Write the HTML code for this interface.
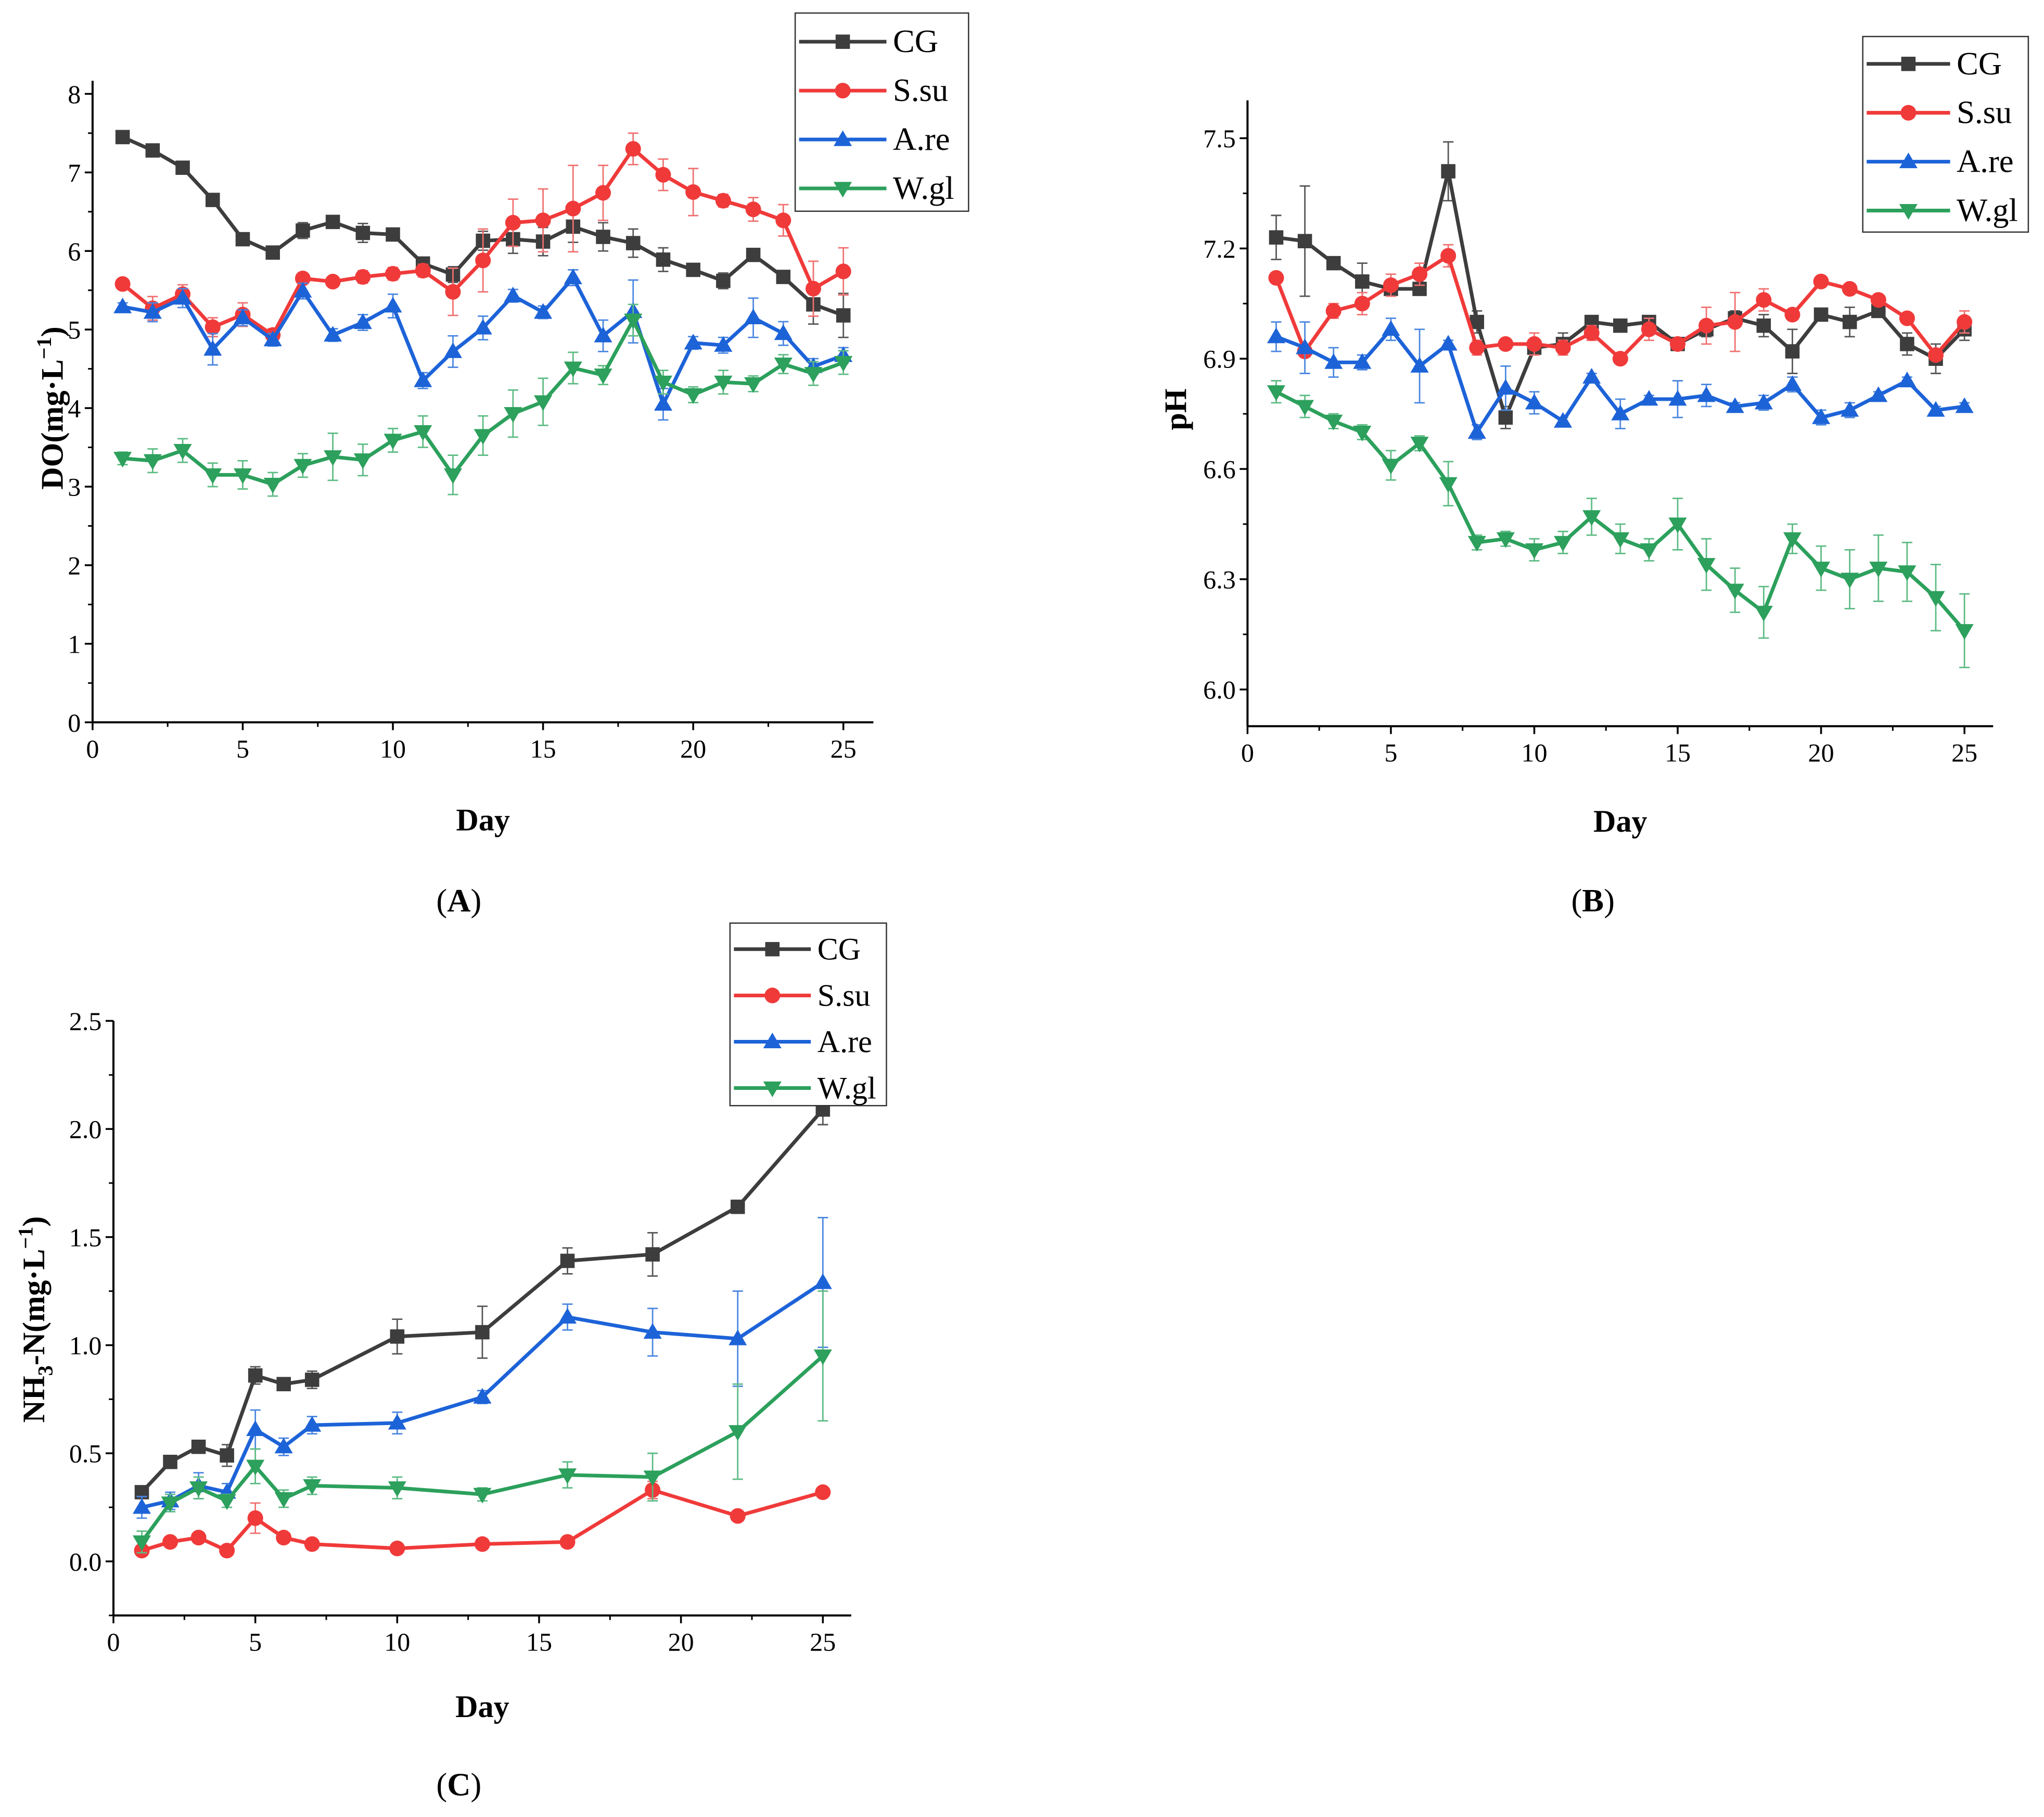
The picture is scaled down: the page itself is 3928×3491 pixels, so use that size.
<!DOCTYPE html>
<html><head><meta charset="utf-8"><style>
html,body{margin:0;padding:0;background:#fff;}
svg{display:block;}
text{font-family:"Liberation Serif",serif;}
</style></head><body>
<svg id="fig" xmlns="http://www.w3.org/2000/svg" width="3928" height="3491" viewBox="0 0 1568 1393.6">
<rect width="1568" height="1393.6" fill="#fff"/>
</svg>
<script>
// ---- Panel A (DO) data ----
const daysA = [1,2,3,4,5,6,7,8,9,10,11,12,13,14,15,16,17,18,19,20,21,22,23,24,25];
const doCG  = [7.45,7.28,7.06,6.65,6.15,5.98,6.26,6.37,6.23,6.21,5.84,5.70,6.13,6.15,6.12,6.31,6.18,6.10,5.89,5.76,5.62,5.95,5.67,5.32,5.18];
const doSsu = [5.58,5.27,5.45,5.03,5.19,4.93,5.65,5.61,5.67,5.71,5.75,5.48,5.88,6.36,6.39,6.54,6.74,7.30,6.97,6.75,6.64,6.53,6.39,5.52,5.74];
const doAre = [5.29,5.22,5.40,4.75,5.15,4.87,5.49,4.93,5.09,5.30,4.35,4.72,5.02,5.43,5.22,5.66,4.92,5.23,4.05,4.83,4.80,5.15,4.95,4.53,4.67];
const doWgl = [3.36,3.33,3.46,3.15,3.15,3.03,3.27,3.38,3.34,3.59,3.70,3.15,3.65,3.93,4.08,4.51,4.42,5.12,4.33,4.17,4.33,4.31,4.56,4.44,4.58];
const doCGe  = [0.04,0.03,0.08,0.03,0.08,0.04,0.10,0.08,0.12,0.06,0.08,0.10,0.12,0.18,0.18,0.20,0.18,0.18,0.15,0.05,0.10,0.05,0.08,0.25,0.28];
const doSsue = [0.04,0.15,0.12,0.12,0.15,0.08,0.05,0.05,0.08,0.08,0.08,0.30,0.40,0.30,0.40,0.55,0.35,0.20,0.20,0.30,0.08,0.15,0.20,0.35,0.30];
const doAree = [0.05,0.12,0.12,0.20,0.10,0.08,0.10,0.08,0.10,0.15,0.10,0.20,0.15,0.08,0.08,0.10,0.20,0.40,0.20,0.08,0.10,0.25,0.15,0.10,0.10];
const doWgle = [0.08,0.15,0.15,0.15,0.18,0.15,0.15,0.30,0.20,0.15,0.20,0.25,0.25,0.30,0.30,0.20,0.12,0.20,0.15,0.10,0.15,0.10,0.12,0.15,0.15];
// ---- Panel B (pH) data ----
const daysB = daysA;
const phCG  = [7.23,7.22,7.16,7.11,7.09,7.09,7.41,7.00,6.74,6.93,6.94,7.00,6.99,7.00,6.94,6.98,7.01,6.99,6.92,7.02,7.00,7.03,6.94,6.90,6.98];
const phSsu = [7.12,6.92,7.03,7.05,7.10,7.13,7.18,6.93,6.94,6.94,6.93,6.97,6.90,6.98,6.94,6.99,7.00,7.06,7.02,7.11,7.09,7.06,7.01,6.91,7.00];
const phAre = [6.96,6.93,6.89,6.89,6.98,6.88,6.94,6.70,6.82,6.78,6.73,6.85,6.75,6.79,6.79,6.80,6.77,6.78,6.83,6.74,6.76,6.80,6.84,6.76,6.77];
const phWgl = [6.81,6.77,6.73,6.70,6.61,6.67,6.56,6.40,6.41,6.38,6.40,6.47,6.41,6.38,6.45,6.34,6.27,6.21,6.41,6.33,6.30,6.33,6.32,6.25,6.16];
const phCGe  = [0.06,0.15,0.01,0.05,0.01,0.01,0.08,0.03,0.03,0.01,0.03,0.01,0.01,0.01,0.01,0.02,0.02,0.03,0.06,0.01,0.04,0.01,0.03,0.04,0.03];
const phSsue = [0.01,0.01,0.02,0.03,0.03,0.03,0.03,0.02,0.01,0.03,0.02,0.02,0.01,0.03,0.01,0.05,0.08,0.03,0.01,0.01,0.01,0.01,0.01,0.01,0.03];
const phAree = [0.04,0.07,0.04,0.02,0.03,0.10,0.01,0.02,0.06,0.03,0.01,0.01,0.04,0.01,0.05,0.03,0.01,0.02,0.02,0.02,0.02,0.01,0.01,0.01,0.01];
const phWgle = [0.03,0.03,0.02,0.02,0.04,0.02,0.06,0.02,0.02,0.03,0.03,0.05,0.04,0.03,0.07,0.07,0.06,0.07,0.04,0.06,0.08,0.09,0.08,0.09,0.10];
// ---- Panel C (NH3-N) data ----
const daysC = [1,2,3,4,5,6,7,10,13,16,19,22,25];
const nhCG  = [0.32,0.46,0.53,0.49,0.86,0.82,0.84,1.04,1.06,1.39,1.42,1.64,2.09];
const nhSsu = [0.05,0.09,0.11,0.05,0.20,0.11,0.08,0.06,0.08,0.09,0.33,0.21,0.32];
const nhAre = [0.25,0.28,0.35,0.32,0.61,0.53,0.63,0.64,0.76,1.13,1.06,1.03,1.29];
const nhWgl = [0.09,0.27,0.34,0.28,0.44,0.29,0.35,0.34,0.31,0.40,0.39,0.60,0.95];
const nhCGe  = [0.02,0.02,0.02,0.05,0.04,0.02,0.04,0.08,0.12,0.06,0.10,0.03,0.07];
const nhSsue = [0.02,0.02,0.02,0.01,0.07,0.02,0.01,0.01,0.01,0.01,0.04,0.01,0.01];
const nhAree = [0.05,0.04,0.06,0.04,0.09,0.04,0.04,0.05,0.03,0.06,0.11,0.22,0.30];
const nhWgle = [0.05,0.04,0.05,0.03,0.08,0.04,0.04,0.05,0.03,0.06,0.11,0.22,0.30];
const xTicks = [0,5,10,15,20,25];
const seriesNames = ["CG","S.su","A.re","W.gl"];

const NS="http://www.w3.org/2000/svg";
const svg=document.getElementById('fig');
const COLORS=["#3d3d3d","#f03a3a","#1d63d8","#2ca05c"];
const ECOL=["#555","#f07070","#4a86e0","#5cbb83"];
const MK=["square","circle","up","down"];
function el(tag,attrs,parent){const e=document.createElementNS(NS,tag);for(const k in attrs)e.setAttribute(k,attrs[k]);(parent||svg).appendChild(e);return e;}
function marker(g,type,x,y,c){
  let m;
  if(type==="square")m=el('rect',{x:x-5.5,y:y-5.5,width:11,height:11,fill:c},g);
  else if(type==="circle")m=el('circle',{cx:x,cy:y,r:6,fill:c},g);
  else if(type==="up")m=el('polygon',{points:`${x},${y-7} ${x-7},${y+5} ${x+7},${y+5}`,fill:c},g);
  else m=el('polygon',{points:`${x},${y+7} ${x-7},${y-5} ${x+7},${y-5}`,fill:c},g);
  return m;
}
function panel(p){
  const g=el('g',{});
  
  
  const X=d=>p.x0+(d-p.xmin)*(p.x1-p.x0)/(p.xmax-p.xmin);
  const Y=v=>p.y0-(v-p.ymin)*(p.y0-p.y1)/(p.ymax-p.ymin);
  const ax=el('g',{},g);
  
  
  el('line',{x1:p.x0,y1:p.y0,x2:p.x1,y2:p.y0,stroke:'#000','stroke-width':1.6},ax);
  el('line',{x1:p.x0,y1:p.y0,x2:p.x0,y2:p.yTop,stroke:'#000','stroke-width':1.6},ax);
  xTicks.forEach(t=>{
    el('line',{x1:X(t),y1:p.y0,x2:X(t),y2:p.y0+6,stroke:'#000','stroke-width':1.4},ax);
    if(t+2.5<=p.xmax)el('line',{x1:X(t+2.5),y1:p.y0,x2:X(t+2.5),y2:p.y0+3.5,stroke:'#000','stroke-width':1.2},ax);
    const tx=el('text',{x:X(t),y:p.y0+27,'font-size':20,'text-anchor':'middle'},ax);tx.textContent=t;
    
    
  });
  p.yTicks.forEach((t,i)=>{
    el('line',{x1:p.x0,y1:Y(t),x2:p.x0-6,y2:Y(t),stroke:'#000','stroke-width':1.4},ax);
    if(i<p.yTicks.length-1)el('line',{x1:p.x0,y1:Y(t+p.ystep/2),x2:p.x0-3.5,y2:Y(t+p.ystep/2),stroke:'#000','stroke-width':1.2},ax);
    const tx=el('text',{x:p.x0-9,y:Y(t)+7,'font-size':20,'text-anchor':'end'},ax);tx.textContent=p.yFmt(t);
    
    
  });
  if(p.minorBelow)el('line',{x1:p.x0,y1:Y(p.yTicks[0]-p.ystep/2),x2:p.x0-3.5,y2:Y(p.yTicks[0]-p.ystep/2),stroke:'#000','stroke-width':1.2},ax);
  const xt=el('text',{x:(p.x0+p.x1)/2,y:p.xTitleY,'font-size':24,'font-weight':'bold','text-anchor':'middle'},g);xt.textContent='Day';
  
  
  const yt=el('text',{x:0,y:0,'font-size':24,'font-weight':'bold','text-anchor':'middle',transform:`translate(${p.yTitleX},${p.yTitleY}) rotate(-90)`},g);
  yt.innerHTML=p.yTitle;
  
  
  p.series.forEach((s,i)=>{
    const sg=el('g',{},g);
    
    
    p.days.forEach((d,j)=>{
      const x=X(d),e=p.errs[i][j];
      el('line',{x1:x,y1:Y(s[j]-e),x2:x,y2:Y(s[j]+e),stroke:ECOL[i],'stroke-width':1.1},sg);
      el('line',{x1:x-4,y1:Y(s[j]-e),x2:x+4,y2:Y(s[j]-e),stroke:ECOL[i],'stroke-width':1.1},sg);
      el('line',{x1:x-4,y1:Y(s[j]+e),x2:x+4,y2:Y(s[j]+e),stroke:ECOL[i],'stroke-width':1.1},sg);
    });
    el('polyline',{points:p.days.map((d,j)=>X(d)+','+Y(s[j])).join(' '),fill:'none',stroke:COLORS[i],'stroke-width':2.8,'stroke-linejoin':'round'},sg);
    p.days.forEach((d,j)=>{
      const m=marker(sg,MK[i],X(d),Y(s[j]),COLORS[i]);
      
      
    });
  });
  const L=p.leg;
  const lg=el('g',{},g);
  
  
  el('rect',{x:L.x,y:L.y,width:L.w,height:L.h,fill:'#fff',stroke:'#333','stroke-width':1},lg);
  seriesNames.forEach((n,i)=>{
    const yy=L.y+L.first+i*L.step;
    const eg=el('g',{},lg);
    
    
    el('line',{x1:L.x+3,y1:yy,x2:L.x+L.lineW,y2:yy,stroke:COLORS[i],'stroke-width':2.8},eg);
    marker(eg,MK[i],L.x+3+(L.lineW-3)/2,yy,COLORS[i]);
    const t=el('text',{x:L.x+L.lineW+5,y:yy+8,'font-size':L.fs||25},eg);t.textContent=n;
  });
  const pl=el('text',{x:p.lab[0],y:p.lab[1],'font-size':25,'text-anchor':'middle'},g);
  pl.innerHTML='(<tspan font-weight="bold">'+p.labT+'</tspan>)';
  
  
}
panel({name:'panel-a-do',days:daysA,series:[doCG,doSsu,doAre,doWgl],errs:[doCGe,doSsue,doAree,doWgle],
  x0:71,x1:670,xmin:0,xmax:26,y0:554,y1:72,ymin:0,ymax:8,yTop:62,yTicks:[0,1,2,3,4,5,6,7,8],ystep:1,
  yFmt:t=>t,xTitleY:637,yTitleX:48,yTitleY:313,yTitle:'DO(mg·L<tspan dy="-9" font-size="16">−1</tspan><tspan dy="9">)</tspan>',
  leg:{x:610,y:10,w:133,h:152,first:22,step:37.5,lineW:70},lab:[352,699],labT:'A'});
panel({name:'panel-b-ph',days:daysB,series:[phCG,phSsu,phAre,phWgl],errs:[phCGe,phSsue,phAree,phWgle],
  x0:957,x1:1529,xmin:0,xmax:26,y0:557,y1:106,ymin:5.9,ymax:7.5,yTop:77,yTicks:[6.0,6.3,6.6,6.9,7.2,7.5],ystep:0.3,minorBelow:false,
  yFmt:t=>t.toFixed(1),xTitleY:638,yTitleX:910,yTitleY:314,yTitle:'pH',
  leg:{x:1429,y:28,w:127,h:150,first:21,step:37.5,lineW:67},lab:[1222,699],labT:'B'});
panel({name:'panel-c-nh3n',days:daysC,series:[nhCG,nhSsu,nhAre,nhWgl],errs:[nhCGe,nhSsue,nhAree,nhWgle],
  x0:87,x1:653,xmin:0,xmax:26,y0:1239,y1:783,ymin:-0.25,ymax:2.5,yTop:783,yTicks:[0,0.5,1.0,1.5,2.0,2.5],ystep:0.5,minorBelow:true,
  yFmt:t=>t.toFixed(1),xTitleY:1317,yTitleX:34,yTitleY:1012,yTitle:'NH<tspan dy="6" font-size="16">3</tspan><tspan dy="-6">-N(mg·L</tspan><tspan dy="-9" font-size="16">−1</tspan><tspan dy="9">)</tspan>',
  leg:{x:560,y:708,w:120,h:140,first:20,step:35.5,lineW:62,fs:24},lab:[352,1377],labT:'C'});
</script>
</body></html>
